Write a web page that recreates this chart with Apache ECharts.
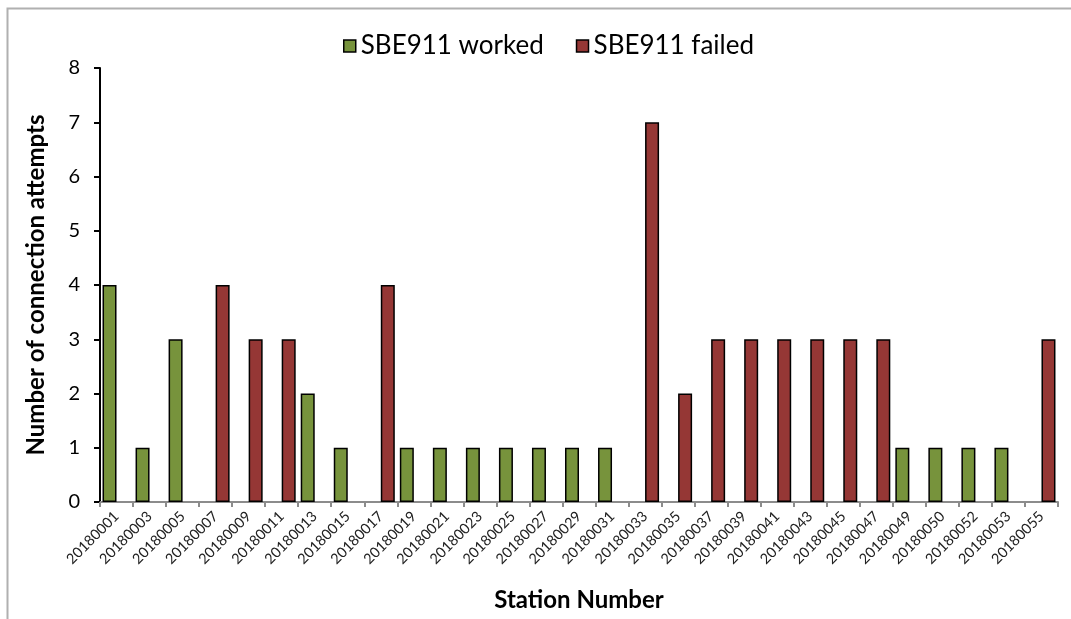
<!DOCTYPE html>
<html>
<head>
<meta charset="utf-8">
<script src="https://cdn.jsdelivr.net/npm/echarts@6/dist/echarts.min.js"></script>
<style>
  html, body { margin: 0; padding: 0; background: #fff; }
  #main { width: 1071px; height: 619px; }
</style>
</head>
<body>
<div id="main"></div>
<script>
var stations = ['20180001','20180003','20180005','20180007','20180009','20180011','20180013','20180015',
  '20180017','20180019','20180021','20180023','20180025','20180027','20180029','20180031','20180033',
  '20180035','20180037','20180039','20180041','20180043','20180045','20180047','20180049','20180050',
  '20180052','20180053','20180055'];
var worked = [4,1,3,0,0,0,2,1,0,1,1,1,1,1,1,1,0,0,0,0,0,0,0,0,1,1,1,1,0];
var failed = [0,0,0,4,3,3,0,0,4,0,0,0,0,0,0,0,7,2,3,3,3,3,3,3,0,0,0,0,3];
var yTicks = [0,1,2,3,4,5,6,7,8];

// zero bars are not drawn in the original
var noZero = function (arr) {
    return arr.map(function (v) { return v === 0 ? '-' : v; });
};

var myChart = echarts.init(document.getElementById('main'));
var font = 'Lato, "Open Sans", sans-serif';

var option = {
    backgroundColor: '#fff',
    animation: false,
    textStyle: { fontFamily: font },
    graphic: [{
        type: 'rect',
        shape: { x: 7.5, y: 8.5, width: 1200, height: 700 },
        style: { fill: 'none', stroke: '#b0b0b0', lineWidth: 2 },
        silent: true
    }],
    legend: {
        top: 28,
        left: 338,
        itemWidth: 12,
        itemHeight: 12,
        itemGap: 32,
        icon: 'rect',
        textStyle: { fontSize: 26, color: '#000', fontFamily: font },
        itemStyle: { borderColor: '#000', borderWidth: 1.5 },
        data: ['SBE911 worked', 'SBE911 failed']
    },
    grid: { left: 100, right: 13, top: 68, bottom: 117 },
    xAxis: {
        type: 'category',
        data: stations,
        name: 'Station Number',
        nameLocation: 'middle',
        nameGap: 86,
        nameTextStyle: { fontSize: 24, fontWeight: 'bold', color: '#000', fontFamily: font },
        axisLine: { lineStyle: { color: '#8c8c8c', width: 2 } },
        axisTick: { show: true, length: 5, lineStyle: { color: '#8c8c8c', width: 2 } },
        axisLabel: { rotate: 45, interval: 0, fontSize: 14.5, color: '#222', margin: 12, fontFamily: font },
        splitLine: { show: false }
    },
    yAxis: {
        type: 'value',
        min: yTicks[0],
        max: yTicks[yTicks.length - 1],
        interval: 1,
        name: 'Number of connection attempts',
        nameLocation: 'middle',
        nameRotate: 90,
        nameGap: 52,
        nameTextStyle: { fontSize: 24, fontWeight: 'bold', color: '#000', fontFamily: font },
        axisLine: { show: true, lineStyle: { color: '#000', width: 2 } },
        axisTick: { show: true, length: 6, lineStyle: { color: '#000', width: 2 } },
        axisLabel: { fontSize: 20, color: '#000', margin: 20, fontFamily: font },
        splitLine: { show: false }
    },
    series: [{
        name: 'SBE911 worked',
        type: 'bar',
        barWidth: 14,
        barGap: '0%',
        itemStyle: { color: '#77933c', borderColor: '#000', borderWidth: 1.5 },
        data: noZero(worked)
    }, {
        name: 'SBE911 failed',
        type: 'bar',
        barWidth: 14,
        barGap: '0%',
        itemStyle: { color: '#953735', borderColor: '#000', borderWidth: 1.5 },
        data: noZero(failed)
    }]
};

myChart.setOption(option);
</script>
</body>
</html>
